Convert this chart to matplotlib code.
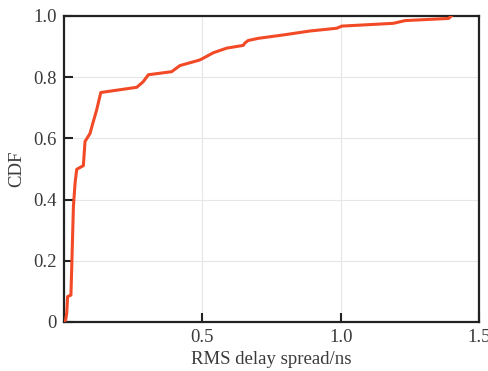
import matplotlib
matplotlib.use("Agg")
import matplotlib.pyplot as plt

rms_delay = [0.0, 0.006, 0.010, 0.013, 0.025, 0.028, 0.034, 0.040, 0.046, 0.070, 0.076,
             0.094, 0.104, 0.118, 0.133, 0.263, 0.286, 0.305, 0.389, 0.419, 0.490,
             0.503, 0.540, 0.588, 0.648, 0.654, 0.666, 0.702, 0.792, 0.889, 0.986,
             1.004, 1.190, 1.233, 1.390, 1.400]
cdf = [0.0, 0.007, 0.03, 0.083, 0.088, 0.18, 0.377, 0.454, 0.499, 0.511, 0.59,
       0.616, 0.649, 0.693, 0.75, 0.767, 0.785, 0.808, 0.818, 0.838, 0.856,
       0.862, 0.88, 0.895, 0.904, 0.912, 0.92, 0.927, 0.938, 0.951, 0.96,
       0.967, 0.976, 0.985, 0.992, 1.0]

xticks = [0.5, 1.0, 1.5]
xticklabels = ["0.5", "1.0", "1.5"]
yticks = [0, 0.2, 0.4, 0.6, 0.8, 1.0]
yticklabels = ["0", "0.2", "0.4", "0.6", "0.8", "1.0"]

plt.rcParams['font.family'] = ['Liberation Serif', 'DejaVu Serif']

fig = plt.figure(figsize=(4.89, 3.71), dpi=100)
ax = fig.add_axes([64/489, 1 - 322/371, (479-64)/489, (322-16)/371])

ax.plot(rms_delay, cdf, color='#f24a26', lw=2.2, solid_joinstyle='round', zorder=3)

ax.set_xlim(0, 1.5)
ax.set_ylim(0, 1.0)
ax.set_xticks(xticks)
ax.set_xticklabels(xticklabels)
ax.set_yticks(yticks)
ax.set_yticklabels(yticklabels)
ax.grid(True, color='#e6e6e6', lw=0.8)
ax.set_axisbelow(True)
ax.tick_params(direction='in', length=6.5, width=1.5, labelsize=13.5, colors='#222222',
               labelcolor='#3a3a3a', pad=5)
for s in ax.spines.values():
    s.set_linewidth(1.6)
    s.set_color('#222222')
ax.set_xlabel('RMS delay spread/ns', fontsize=13.5, color='#3a3a3a', labelpad=4)
ax.set_ylabel('CDF', fontsize=13.5, color='#3a3a3a', labelpad=6)

fig.savefig('out.png', dpi=100)
